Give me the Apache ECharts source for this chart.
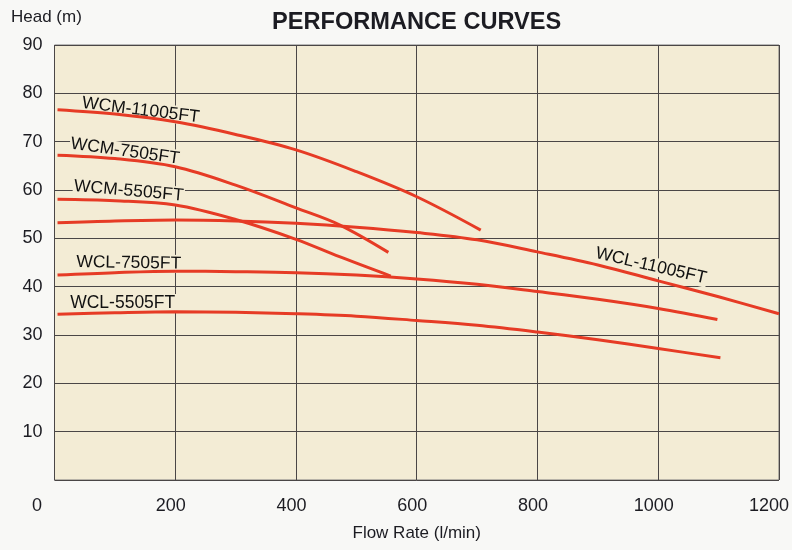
<!DOCTYPE html>
<html>
<head>
<meta charset="utf-8">
<script src="https://cdn.jsdelivr.net/npm/echarts@6/dist/echarts.min.js"></script>
<style>
html,body{margin:0;padding:0;background:#f8f8f6;}
#c{width:792px;height:550px;}
</style>
</head>
<body>
<div id="c"></div>
<script>
// ---- data ----
var xTicks = [0, 200, 400, 600, 800, 1000, 1200];
var yTicks = [0, 10, 20, 30, 40, 50, 60, 70, 80, 90];

var wcm11005Flow = [5, 100, 200, 300, 400, 500, 600, 706];
var wcm11005Head = [76.6, 75.7, 74.1, 71.5, 68.3, 63.8, 58.6, 51.7];

var wcm7505Flow = [5, 100, 200, 300, 400, 472, 553];
var wcm7505Head = [67.2, 66.5, 64.8, 61.0, 56.3, 52.8, 47.1];

var wcm5505Flow = [5, 100, 200, 300, 400, 472, 557];
var wcm5505Head = [58.1, 57.8, 56.9, 53.9, 49.8, 46.2, 42.2];

var wcl11005Flow = [5, 100, 200, 300, 400, 500, 600, 700, 800, 900, 1000, 1100, 1200];
var wcl11005Head = [53.2, 53.6, 53.8, 53.6, 53.1, 52.3, 51.2, 49.7, 47.2, 44.5, 41.2, 37.9, 34.4];

var wcl7505Flow = [5, 100, 200, 300, 400, 500, 600, 700, 800, 900, 1000, 1098];
var wcl7505Head = [42.4, 42.9, 43.2, 43.1, 42.9, 42.4, 41.6, 40.5, 39.0, 37.4, 35.5, 33.2];

var wcl5505Flow = [5, 100, 200, 300, 400, 500, 600, 700, 800, 900, 1000, 1103];
var wcl5505Head = [34.3, 34.6, 34.8, 34.7, 34.4, 33.9, 33.0, 32.0, 30.6, 29.0, 27.2, 25.3];

var curveNames = ['WCM-11005FT', 'WCM-7505FT', 'WCM-5505FT', 'WCL-11005FT', 'WCL-7505FT', 'WCL-5505FT'];
var labelFlow = [143, 117, 123, 988, 123, 113];
var labelHead = [76.5, 68.0, 59.8, 44.3, 44.9, 36.6];
var labelRotate = [-7, -8, -5, -13, -1, 0];

// ---- build ----
function pairs(f, h) { return f.map(function (v, i) { return [v, h[i]]; }); }
var curves = [
  pairs(wcm11005Flow, wcm11005Head),
  pairs(wcm7505Flow, wcm7505Head),
  pairs(wcm5505Flow, wcm5505Head),
  pairs(wcl11005Flow, wcl11005Head),
  pairs(wcl7505Flow, wcl7505Head),
  pairs(wcl5505Flow, wcl5505Head)
];

var FONT = "'Liberation Sans', Arial, Helvetica, sans-serif";
var TXT = '#1c1c22';
var RED = '#e63b25';
var PLOT_BG = '#f3ecd5';

var series = curves.map(function (d, i) {
  return {
    name: curveNames[i],
    type: 'line',
    data: d,
    smooth: 0.35,
    symbol: 'none',
    z: 5,
    lineStyle: { color: RED, width: 3 }
  };
});

series.push({
  name: 'labels',
  type: 'scatter',
  z: 3,
  symbolSize: 0,
  silent: true,
  itemStyle: { opacity: 1 },
  data: curveNames.map(function (n, i) {
    return {
      value: [labelFlow[i], labelHead[i]],
      name: n,
      label: { rotate: labelRotate[i] }
    };
  }),
  label: {
    show: true,
    position: 'inside',
    formatter: function (p) { return p.name; },
    fontFamily: FONT,
    fontSize: 17.5,
    color: '#111111',
    opacity: 1,
    backgroundColor: PLOT_BG,
    padding: [0, 1]
  }
});

var chart = echarts.init(document.getElementById('c'), null, { renderer: 'canvas' });
chart.setOption({
  backgroundColor: '#f8f8f6',
  animation: false,
  title: [
    {
      text: 'PERFORMANCE CURVES',
      left: 267, top: 5,
      textStyle: { fontFamily: FONT, fontSize: 23.6, fontWeight: 'bold', color: TXT }
    },
    {
      text: 'Head (m)',
      left: 6, top: 4,
      textStyle: { fontFamily: FONT, fontSize: 17, fontWeight: 'normal', color: TXT }
    }
  ],
  grid: {
    left: 54.5, right: 12, top: 45, bottom: 70,
    show: true,
    backgroundColor: PLOT_BG,
    borderColor: '#7a7a7a',
    borderWidth: 1
  },
  xAxis: {
    type: 'value',
    min: xTicks[0], max: xTicks[xTicks.length - 1], interval: 200,
    name: 'Flow Rate (l/min)',
    nameLocation: 'middle',
    nameGap: 45,
    nameTextStyle: { fontFamily: FONT, fontSize: 17, color: TXT },
    axisLine: { show: false },
    axisTick: { show: false },
    splitLine: { show: true, lineStyle: { color: '#4a4646', width: 1 } },
    axisLabel: {
      margin: 17,
      fontFamily: FONT, fontSize: 18, color: TXT,
      formatter: function (v) {
        if (v === 0) return '{z|0}';
        if (v === 1200) return '{e|1200}';
        return '{n|' + v + '}';
      },
      rich: {
        z: { fontFamily: FONT, fontSize: 18, color: TXT, padding: [0, 35, 0, 0] },
        n: { fontFamily: FONT, fontSize: 18, color: TXT, padding: [0, 9, 0, 0] },
        e: { fontFamily: FONT, fontSize: 18, color: TXT, padding: [0, 20, 0, 0] }
      }
    }
  },
  yAxis: {
    type: 'value',
    min: yTicks[0], max: yTicks[yTicks.length - 1], interval: 10,
    axisLine: { show: false },
    axisTick: { show: false },
    splitLine: { show: true, lineStyle: { color: '#4a4646', width: 1 } },
    axisLabel: {
      margin: 12,
      fontFamily: FONT, fontSize: 18, color: TXT,
      formatter: function (v) { return v === 0 ? '' : String(v); }
    }
  },
  series: series
});
</script>
</body>
</html>
